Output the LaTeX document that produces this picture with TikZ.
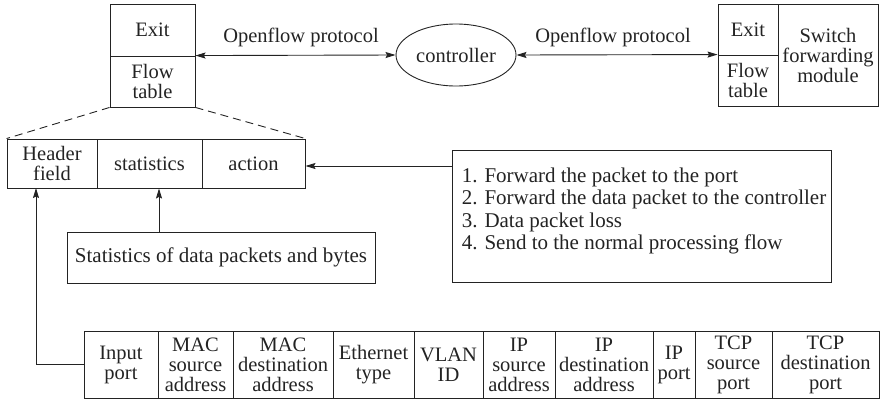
\documentclass[tikz,border=0pt]{standalone}
\usepackage{fontspec}
\setmainfont{Liberation Serif}
\usetikzlibrary{shapes.geometric,arrows.meta}
\definecolor{ink}{RGB}{35,35,35}
\begin{document}
\begin{tikzpicture}[x=1pt,y=-1pt,
  every node/.style={text=ink},
  box/.style={draw=ink, line width=0.9pt, inner sep=0pt, align=center, font=\fontsize{20.5}{20}\selectfont},
  cell/.style={box, minimum height=67pt},
  hcell/.style={box, minimum height=49pt},
  lbl/.style={inner sep=0pt, font=\fontsize{20.5}{20}\selectfont},
  conn/.style={draw=ink, line width=0.9pt},
  tip/.style={conn, -{Stealth[length=10pt,width=6pt,inset=1.5pt]}},
  dtip/.style={conn, {Stealth[length=10pt,width=6pt,inset=1.5pt]}-{Stealth[length=10pt,width=6pt,inset=1.5pt]}}
]
\useasboundingbox (0,0) rectangle (882,402);
% top left switch
\node[box, minimum width=85pt, minimum height=52pt] (exit) at (152.5,30) {Exit};
\node[box, minimum width=85pt, minimum height=51pt] (flow) at (152.5,81.5) {Flow\\table};
% controller
\node[draw=ink, line width=0.9pt, ellipse, minimum width=120pt, minimum height=62pt, inner sep=0pt, font=\fontsize{20.5}{20}\selectfont] (ctrl) at (456,55) {controller};
% top right switch
\node[box, minimum width=60pt, minimum height=51pt] (rexit) at (748,29.5) {Exit};
\node[box, minimum width=60pt, minimum height=51pt] (rflow) at (748,80.5) {Flow\\table};
\node[box, minimum width=100pt, minimum height=102pt] (sw) at (828,55) {Switch\\forwarding\\module};
% protocol labels
\node[lbl] (p1) at (301,37) {Openflow protocol};
\node[lbl] (p2) at (613,37) {Openflow protocol};
\draw[dtip] (flow.north east) -- (ctrl.west);
\draw[dtip] (ctrl.east) -- (rflow.north west);
% header row
\node[hcell, minimum width=90pt] (hdr) at (52,163.5) {Header\\field};
\node[hcell, minimum width=105pt] (stat) at (149.5,163.5) {statistics};
\node[hcell, minimum width=103pt] (act) at (253.5,163.5) {action};
\draw[conn, dash pattern=on 8pt off 5pt] (flow.south west) -- (hdr.north west);
\draw[conn, dash pattern=on 8pt off 5pt] (flow.south east) -- (act.north east);
% action list
\node[draw=ink, line width=0.9pt, minimum width=379pt, minimum height=132pt, inner sep=0pt] (list) at (641.5,216) {};
\node[anchor=north west, align=left, inner sep=0pt, font=\fontsize{21}{22.5}\selectfont] (listtext) at ([xshift=10pt,yshift=-18pt]list.north west)
  {1. Forward the packet to the port\\2. Forward the data packet to the controller\\3. Data packet loss\\4. Send to the normal processing flow};
\coordinate (aa) at (452,166);
\draw[tip] (aa) -- (aa -| act.east);
% statistics box
\node[box, minimum width=308pt, minimum height=51pt, font=\fontsize{21}{20}\selectfont] (stats) at (221,257.5) {Statistics of data packets and bytes};
\coordinate (sa) at (159,232);
\draw[tip] (sa) -- (sa |- stat.south);
% bottom row
\node[cell, minimum width=74pt] (c1) at (121,364.5) {Input\\port};
\node[cell, minimum width=75pt] (c2) at (195.5,364.5) {MAC\\source\\address};
\node[cell, minimum width=100pt] (c3) at (283,364.5) {MAC\\destination\\address};
\node[cell, minimum width=81pt] (c4) at (373.5,364.5) {Ethernet\\type};
\node[cell, minimum width=69pt] (c5) at (448.5,364.5) {VLAN\\ID};
\node[cell, minimum width=72pt] (c6) at (519,364.5) {IP\\source\\address};
\node[cell, minimum width=98pt] (c7) at (604,364.5) {IP\\destination\\address};
\node[cell, minimum width=42pt] (c8) at (674,364.5) {IP\\port};
\node[cell, minimum width=77pt] (c9) at (733.5,364.5) {TCP\\source\\port};
\node[cell, minimum width=107pt] (c10) at (825.5,364.5) {TCP\\destination\\port};
\coordinate (ha) at (36,188);
\draw[tip] (c1.west) -| (ha);
\end{tikzpicture}
\end{document}
